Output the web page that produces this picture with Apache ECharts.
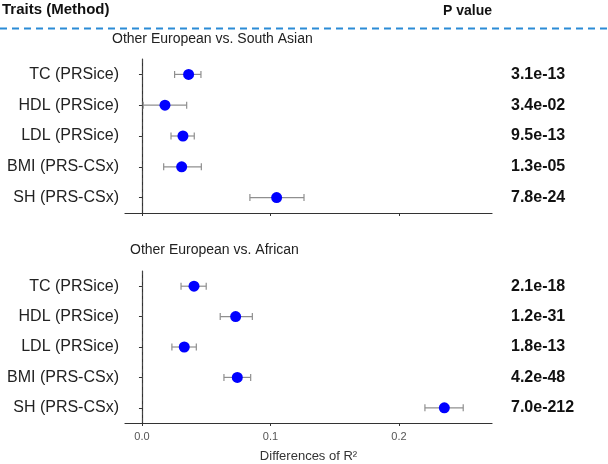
<!DOCTYPE html>
<html>
<head>
<meta charset="utf-8">
<script src="https://cdn.jsdelivr.net/npm/echarts@6/dist/echarts.min.js"></script>
<style>
html,body{margin:0;padding:0;background:#fff;}
#chart{width:608px;height:464px;}
</style>
</head>
<body>
<div id="chart"></div>
<script>
// ---- Data ----
const traits = ['TC (PRSice)', 'HDL (PRSice)', 'LDL (PRSice)', 'BMI (PRS-CSx)', 'SH (PRS-CSx)'];

const saEst  = [0.0363, 0.0179, 0.0319, 0.0309, 0.1048];
const saLow  = [0.0254, 0.0010, 0.0226, 0.0169, 0.0840];
const saHigh = [0.0459, 0.0348, 0.0407, 0.0462, 0.1261];
const saP    = ['3.1e-13', '3.4e-02', '9.5e-13', '1.3e-05', '7.8e-24'];

const afEst  = [0.0405, 0.0729, 0.0329, 0.0742, 0.2353];
const afLow  = [0.0304, 0.0609, 0.0233, 0.0638, 0.2202];
const afHigh = [0.0500, 0.0859, 0.0423, 0.0846, 0.2500];
const afP    = ['2.1e-18', '1.2e-31', '1.8e-13', '4.2e-48', '7.0e-212'];

const refLine = [0];
const xTickValues = [0, 0.1, 0.2];
const xTickLabels = ['0.0', '0.1', '0.2'];

const panelTitles = ['Other European vs. South Asian', 'Other European vs. African'];
const headerLeft = 'Traits (Method)';
const headerRight = 'P value';
const xAxisTitle = 'Differences of R\u00B2';

// ---- Chart ----
const FONT = "'Liberation Sans', Arial, sans-serif";
const chart = echarts.init(document.getElementById('chart'), null, {renderer: 'canvas'});

function xAxisCfg(gridIndex, showLabels) {
  return {
    type: 'value', gridIndex: gridIndex,
    min: -0.0132, max: 0.2724,
    splitLine: {show: false},
    axisLine: {show: true, onZero: false, lineStyle: {color: '#333', width: 1.2}},
    axisTick: {show: true, length: 3, lineStyle: {color: '#333'}, customValues: xTickValues},
    axisLabel: {
      show: showLabels, customValues: xTickValues, margin: 8,
      fontFamily: FONT, fontSize: 11, color: '#555',
      formatter: function (v) {
        const i = xTickValues.findIndex(t => Math.abs(t - v) < 1e-9);
        return i >= 0 ? xTickLabels[i] : '';
      }
    },
    name: showLabels ? xAxisTitle : '',
    nameLocation: 'middle', nameGap: 27,
    nameTextStyle: {fontFamily: FONT, fontSize: 13, color: '#333'}
  };
}

function yLeft(gridIndex) {
  return {
    type: 'category', gridIndex: gridIndex, data: traits, inverse: true,
    axisLine: {show: true, lineStyle: {color: '#333', width: 1.2}},
    axisTick: {show: true, length: 3, alignWithLabel: true, lineStyle: {color: '#333'}},
    axisLabel: {fontFamily: FONT, fontSize: 16, color: '#222', margin: 6},
    splitLine: {show: false}
  };
}

function yRight(gridIndex, pvals) {
  return {
    type: 'category', gridIndex: gridIndex, data: pvals, inverse: true, position: 'right',
    axisLine: {show: false}, axisTick: {show: false},
    axisLabel: {fontFamily: FONT, fontSize: 16, fontWeight: 'bold', color: '#111', margin: 19},
    splitLine: {show: false}
  };
}

function refSeries(idx) {
  return {
    type: 'custom', xAxisIndex: idx, yAxisIndex: idx * 2,
    data: refLine.map(v => [v, 0]),
    encode: {x: 0, y: 1},
    z: 1, silent: true,
    renderItem: function (params, api) {
      const cs = params.coordSys;
      const p = api.coord([api.value(0), 0]);
      const x = Math.round(p[0]) + 0.5;
      return {
        type: 'line',
        shape: {x1: x, y1: cs.y, x2: x, y2: cs.y + cs.height},
        style: {stroke: '#444', lineWidth: 1, lineDash: [4, 3]}
      };
    }
  };
}

function errorSeries(idx, low, high) {
  return {
    type: 'custom', xAxisIndex: idx, yAxisIndex: idx * 2,
    data: low.map((l, i) => [l, high[i], i]),
    encode: {x: [0, 1], y: 2},
    z: 2, silent: true,
    renderItem: function (params, api) {
      const yi = api.value(2);
      const p1 = api.coord([api.value(0), yi]);
      const p2 = api.coord([api.value(1), yi]);
      const h = 3.5;
      const st = {stroke: '#8f8f8f', lineWidth: 1.2};
      return {
        type: 'group',
        children: [
          {type: 'line', shape: {x1: p1[0], y1: p1[1], x2: p2[0], y2: p2[1]}, style: st},
          {type: 'line', shape: {x1: p1[0], y1: p1[1] - h, x2: p1[0], y2: p1[1] + h}, style: st},
          {type: 'line', shape: {x1: p2[0], y1: p2[1] - h, x2: p2[0], y2: p2[1] + h}, style: st}
        ]
      };
    }
  };
}

function pointSeries(idx, est) {
  return {
    type: 'scatter', xAxisIndex: idx, yAxisIndex: idx * 2,
    data: est.map((v, i) => [v, i]),
    symbol: 'circle', symbolSize: 11,
    itemStyle: {color: '#0000ff', opacity: 1},
    z: 3, silent: true
  };
}

const option = {
  animation: false,
  backgroundColor: '#fff',
  grid: [
    {left: 125, right: 116, top: 59, height: 154},
    {left: 125, right: 116, top: 271, height: 153}
  ],
  xAxis: [xAxisCfg(0, false), xAxisCfg(1, true)],
  yAxis: [yLeft(0), yRight(0, saP), yLeft(1), yRight(1, afP)],
  series: [
    refSeries(0),
    errorSeries(0, saLow, saHigh),
    pointSeries(0, saEst),
    refSeries(1),
    errorSeries(1, afLow, afHigh),
    pointSeries(1, afEst)
  ],
  graphic: [
    {type: 'text', x: 2, y: 10, style: {text: headerLeft, font: 'bold 15px ' + FONT, fill: '#111', verticalAlign: 'middle'}},
    {type: 'text', x: 443, y: 11, style: {text: headerRight, font: 'bold 14px ' + FONT, fill: '#111', verticalAlign: 'middle'}},
    {type: 'line', shape: {x1: 0, y1: 28.5, x2: 608, y2: 28.5}, style: {stroke: '#2b8bd6', lineWidth: 2, lineDash: [7, 5]}},
    {type: 'text', x: 112, y: 39, style: {text: panelTitles[0], font: '14px ' + FONT, fill: '#222', verticalAlign: 'middle'}},
    {type: 'text', x: 130, y: 250, style: {text: panelTitles[1], font: '14px ' + FONT, fill: '#222', verticalAlign: 'middle'}}
  ]
};
chart.setOption(option);
</script>
</body>
</html>
